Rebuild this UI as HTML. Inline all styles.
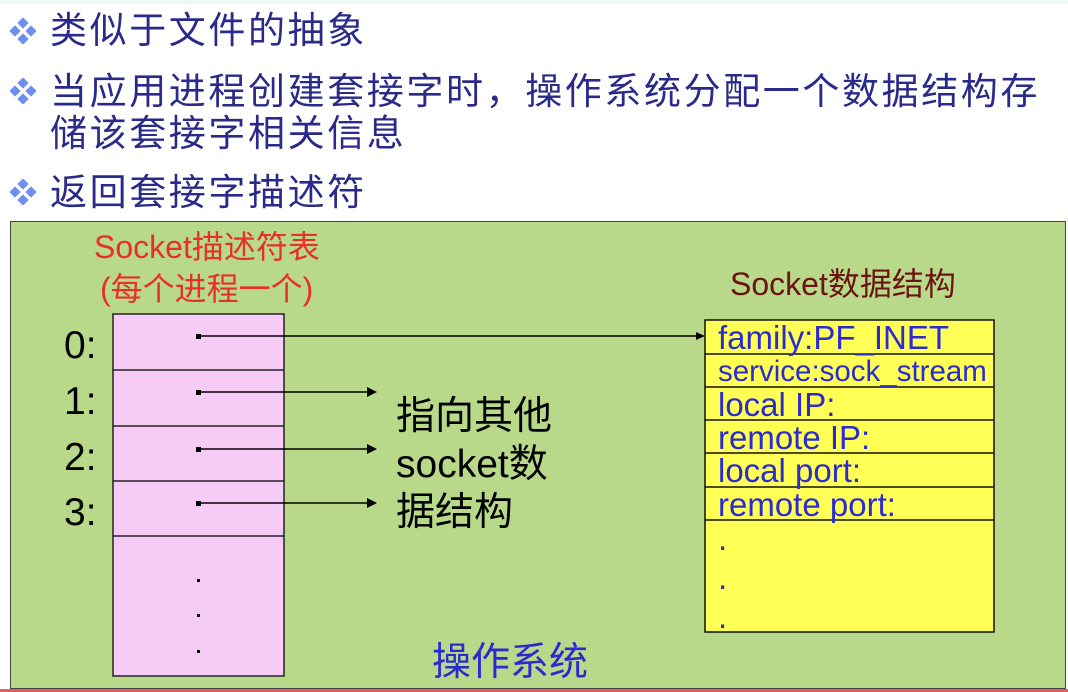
<!DOCTYPE html>
<html><head><meta charset="utf-8"><style>
body{margin:0;width:1068px;height:692px;background:#fff;position:relative;overflow:hidden;font-family:"Liberation Sans","Noto Sans CJK SC",sans-serif}
.t{position:absolute;white-space:nowrap;line-height:1}
.b{color:#2a2a8a;font-size:37px;letter-spacing:2.6px;left:50px}
.d{position:absolute;left:10px;width:26px;height:26px}
</style></head><body>
<div style="position:absolute;left:0;top:0;width:1068px;height:4px;background:#eef8f4"></div>
<svg class="d" style="top:18px" viewBox="0 0 26 26"><g fill="#6f8ff0"><rect x="9" y="1" width="8" height="8" transform="rotate(45 13 5)"/><rect x="9" y="17" width="8" height="8" transform="rotate(45 13 21)"/><rect x="1" y="9" width="8" height="8" transform="rotate(45 5 13)"/><rect x="17" y="9" width="8" height="8" transform="rotate(45 21 13)"/></g></svg>
<svg class="d" style="top:78px" viewBox="0 0 26 26"><g fill="#6f8ff0"><rect x="9" y="1" width="8" height="8" transform="rotate(45 13 5)"/><rect x="9" y="17" width="8" height="8" transform="rotate(45 13 21)"/><rect x="1" y="9" width="8" height="8" transform="rotate(45 5 13)"/><rect x="17" y="9" width="8" height="8" transform="rotate(45 21 13)"/></g></svg>
<svg class="d" style="top:179px" viewBox="0 0 26 26"><g fill="#6f8ff0"><rect x="9" y="1" width="8" height="8" transform="rotate(45 13 5)"/><rect x="9" y="17" width="8" height="8" transform="rotate(45 13 21)"/><rect x="1" y="9" width="8" height="8" transform="rotate(45 5 13)"/><rect x="17" y="9" width="8" height="8" transform="rotate(45 21 13)"/></g></svg>
<div class="t b" style="top:12px">类似于文件的抽象</div>
<div class="t b" style="top:73px">当应用进程创建套接字时，操作系统分配一个数据结构存</div>
<div class="t b" style="top:115px">储该套接字相关信息</div>
<div class="t b" style="top:174px">返回套接字描述符</div>
<div style="position:absolute;left:10px;top:221px;width:1054px;height:466px;background:#b9d98a;border:1.5px solid #444"></div>
<div style="position:absolute;left:0;top:689px;width:1068px;height:3px;background:#e06060"></div>
<svg style="position:absolute;left:0;top:0" width="1068" height="692">
<rect x="113" y="314" width="171" height="362" fill="#f6ccf6" stroke="#222" stroke-width="1.5"/>
<g stroke="#222" stroke-width="1.5"><line x1="113" y1="370" x2="284" y2="370"/><line x1="113" y1="426" x2="284" y2="426"/><line x1="113" y1="481" x2="284" y2="481"/><line x1="113" y1="536" x2="284" y2="536"/></g>
<rect x="705" y="320" width="289" height="312" fill="#ffff55" stroke="#111" stroke-width="1.5"/>
<g stroke="#111" stroke-width="1.5"><line x1="705" y1="354" x2="994" y2="354"/><line x1="705" y1="387" x2="994" y2="387"/><line x1="705" y1="420" x2="994" y2="420"/><line x1="705" y1="453" x2="994" y2="453"/><line x1="705" y1="487" x2="994" y2="487"/><line x1="705" y1="520" x2="994" y2="520"/></g>
<g stroke="#000" stroke-width="1.5">
<line x1="199" y1="336" x2="698" y2="336"/><line x1="199" y1="392" x2="370" y2="392"/><line x1="199" y1="449" x2="370" y2="449"/><line x1="199" y1="503" x2="370" y2="503"/></g>
<g fill="#000"><rect x="196" y="334" width="5" height="5"/><rect x="196" y="390" width="5" height="5"/><rect x="196" y="447" width="5" height="5"/><rect x="196" y="501" width="5" height="5"/>
<polygon points="705,336 696,332 696,340"/><polygon points="377,392 367,387 367,397"/><polygon points="377,449 367,444 367,454"/><polygon points="377,503 367,498 367,508"/>
<rect x="197" y="579" width="3" height="3"/><rect x="197" y="614" width="3" height="3"/><rect x="197" y="650" width="3" height="3"/></g>
</svg>
<div class="t" style="left:94px;top:231px;font-size:32px;color:#e8302a">Socket描述符表</div>
<div class="t" style="left:100px;top:273px;font-size:32px;color:#e8302a">(每个进程一个)</div>
<div class="t" style="left:730px;top:268px;font-size:32px;color:#6b1212">Socket数据结构</div>
<div class="t" style="left:64px;top:326px;font-size:39px">0:</div>
<div class="t" style="left:64px;top:382px;font-size:39px">1:</div>
<div class="t" style="left:64px;top:438px;font-size:39px">2:</div>
<div class="t" style="left:64px;top:493px;font-size:39px">3:</div>
<div class="t" style="left:396px;top:397px;font-size:39px">指向其他</div>
<div class="t" style="left:396px;top:445px;font-size:39px">socket数</div>
<div class="t" style="left:396px;top:493px;font-size:39px">据结构</div>
<div class="t" style="left:432px;top:643px;font-size:39px;color:#2a2ad0">操作系统</div>
<div style="position:absolute;left:718px;top:320px;color:#2b2bd0;font-size:33px">
<div class="t" style="top:1px">family:PF_INET</div>
<div class="t" style="top:37px;font-size:29.5px">service:sock_stream</div>
<div class="t" style="top:68px">local IP:</div>
<div class="t" style="top:101px">remote IP:</div>
<div class="t" style="top:134px">local port:</div>
<div class="t" style="top:168px">remote port:</div>
<div class="t" style="top:202px">.</div>
<div class="t" style="top:241px">.</div>
<div class="t" style="top:280px">.</div>
</div>
</body></html>
